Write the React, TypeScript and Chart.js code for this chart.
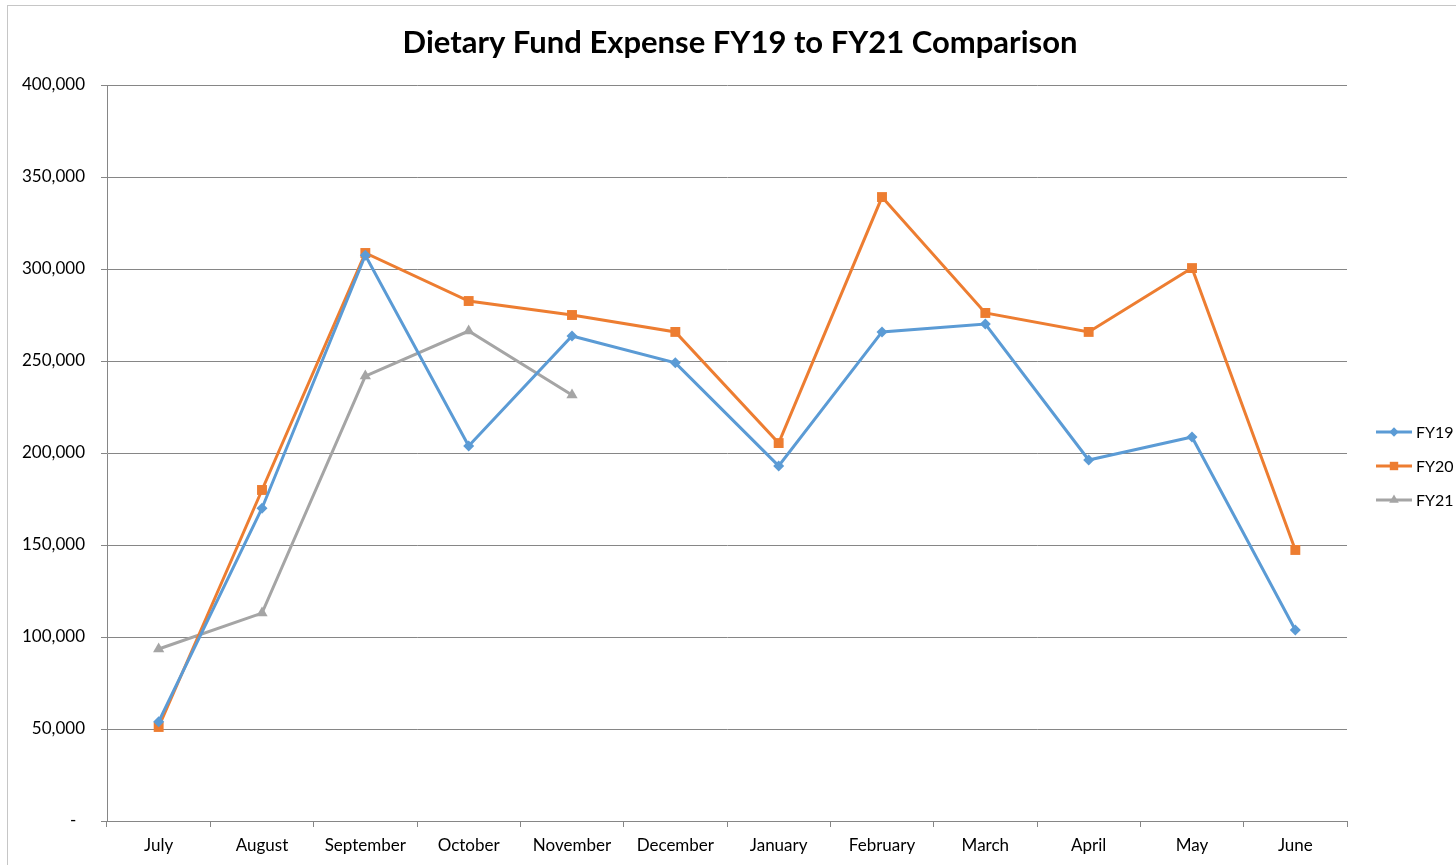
import React, { useEffect, useRef } from "react";
import { Chart, registerables } from "chart.js";

Chart.register(...registerables);

const months = ["July", "August", "September", "October", "November", "December", "January", "February", "March", "April", "May", "June"];
const fy19 = [54000, 170000, 307500, 203800, 263600, 249000, 193000, 265800, 270100, 196200, 208700, 103800];
const fy20 = [51100, 179900, 308700, 282600, 275000, 265800, 205400, 339100, 276100, 265800, 300500, 147300];
const fy21 = [93500, 113000, 241800, 266300, 231500, null, null, null, null, null, null, null];
const seriesNames = ["FY19", "FY20", "FY21"];
const seriesColors = ["#5b9bd5", "#ed7d31", "#a5a5a5"];
const pointStyles = ["rectRot", "rect", "triangle"];
const pointRadii = [5.5, 7, 6.5];
const titleText = "Dietary Fund Expense FY19 to FY21 Comparison";

const FONT = "Lato, 'Open Sans', sans-serif";

function drawMarker(ctx: CanvasRenderingContext2D, style: string, x: number, y: number, r: number) {
  ctx.beginPath();
  if (style === "rectRot") {
    ctx.moveTo(x, y - r);
    ctx.lineTo(x + r, y);
    ctx.lineTo(x, y + r);
    ctx.lineTo(x - r, y);
    ctx.closePath();
  } else if (style === "rect") {
    const s = Math.SQRT1_2 * r;
    ctx.rect(x - s, y - s, 2 * s, 2 * s);
  } else {
    ctx.moveTo(x, y - r);
    ctx.lineTo(x + r * 0.866, y + r / 2);
    ctx.lineTo(x - r * 0.866, y + r / 2);
    ctx.closePath();
  }
  ctx.fill();
}

const framePlugin = {
  id: "frame",
  beforeDraw(chart: any) {
    const ctx = chart.ctx;
    ctx.save();
    ctx.fillStyle = "#ffffff";
    ctx.fillRect(0, 0, chart.width, chart.height);
    ctx.strokeStyle = "#c6c6c6";
    ctx.lineWidth = 1;
    ctx.strokeRect(7.5, 5.5, 1600, 1000);
    ctx.fillStyle = "#000000";
    ctx.font = `bold 31px ${FONT}`;
    ctx.textAlign = "center";
    ctx.textBaseline = "alphabetic";
    ctx.fillText(titleText, 740, 53);
    ctx.restore();
  },
};

const legendPlugin = {
  id: "sideLegend",
  afterDraw(chart: any) {
    const ctx = chart.ctx;
    ctx.save();
    const x0 = 1376;
    const y0 = 432;
    const gap = 34;
    chart.data.datasets.forEach((ds: any, i: number) => {
      const y = y0 + i * gap;
      ctx.strokeStyle = ds.borderColor;
      ctx.lineWidth = 3;
      ctx.beginPath();
      ctx.moveTo(x0, y);
      ctx.lineTo(x0 + 36, y);
      ctx.stroke();
      ctx.fillStyle = ds.borderColor;
      drawMarker(ctx, ds.pointStyle, x0 + 18, y, ds.pointRadius * 0.85);
      ctx.fillStyle = "#000000";
      ctx.font = `16px ${FONT}`;
      ctx.textAlign = "left";
      ctx.textBaseline = "middle";
      ctx.fillText(ds.label, x0 + 40, y + 1);
    });
    ctx.restore();
  },
};

export default function App() {
  const ref = useRef<HTMLCanvasElement | null>(null);
  useEffect(() => {
    if (!ref.current) return;
    const data = [fy19, fy20, fy21];
    const chart = new Chart(ref.current, {
      type: "line",
      data: {
        labels: months,
        datasets: seriesNames.map((name, i) => ({
          label: name,
          data: data[i],
          borderColor: seriesColors[i],
          backgroundColor: seriesColors[i],
          pointBackgroundColor: seriesColors[i],
          pointBorderColor: seriesColors[i],
          pointStyle: pointStyles[i] as any,
          pointRadius: pointRadii[i],
          pointBorderWidth: 0,
          borderWidth: 3,
          tension: 0,
          spanGaps: false,
        })),
      },
      options: {
        responsive: false,
        animation: false,
        layout: { padding: { left: 0, right: 109, top: 85, bottom: 0 } },
        plugins: {
          legend: { display: false },
          tooltip: { enabled: false },
          title: { display: false },
        },
        scales: {
          x: {
            offset: true,
            afterFit: (s: any) => { s.height = 44; },
            grid: { display: true, drawOnChartArea: false, offset: true, tickLength: 6, color: "#868686" },
            border: { display: true, color: "#868686", width: 1 },
            ticks: { color: "#000000", font: { family: FONT, size: 17 }, padding: 8, maxRotation: 0, autoSkip: false },
          },
          y: {
            min: 0,
            max: 400000,
            afterFit: (s: any) => { s.width = 107; },
            grid: { color: "#868686", tickLength: 6, drawTicks: true },
            border: { display: true, color: "#868686", width: 1 },
            ticks: {
              stepSize: 50000,
              color: "#000000",
              font: { family: FONT, size: 17 },
              padding: 16,
              callback: (v: any) => (Number(v) === 0 ? "-  " : Number(v).toLocaleString("en-US")),
            },
          },
        },
      },
      plugins: [framePlugin, legendPlugin],
    });
    return () => chart.destroy();
  }, []);
  return (
    <div style={{ position: "absolute", left: 0, top: 0, width: 1456, height: 865 }}>
      <canvas ref={ref} width={1456} height={865} style={{ display: "block" }} />
    </div>
  );
}
